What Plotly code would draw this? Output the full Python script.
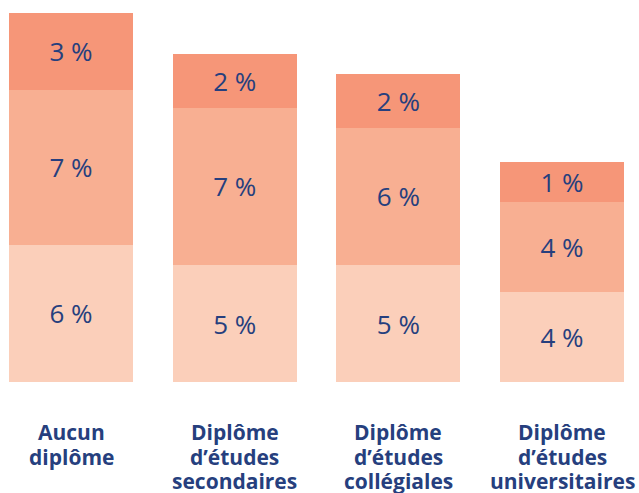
import plotly.graph_objects as go

categories = ["Aucun<br>diplôme", "Diplôme<br>d’études<br>secondaires",
              "Diplôme<br>d’études<br>collégiales", "Diplôme<br>d’études<br>universitaires"]
bottom_vals = [6.1, 5.2, 5.2, 4.0]
mid_vals = [6.9, 7.0, 6.1, 4.0]
top_vals = [3.4, 2.4, 2.4, 1.8]
bottom_labels = ["6 %", "5 %", "5 %", "4 %"]
mid_labels = ["7 %", "7 %", "6 %", "4 %"]
top_labels = ["3 %", "2 %", "2 %", "1 %"]

colors = ["#FBCFBA", "#F8AF92", "#F69678"]
text_color = "#263F7E"

x = list(range(len(categories)))
fig = go.Figure()
for vals, labels, col in [(bottom_vals, bottom_labels, colors[0]),
                          (mid_vals, mid_labels, colors[1]),
                          (top_vals, top_labels, colors[2])]:
    fig.add_trace(go.Bar(
        x=x, y=vals, text=labels, width=0.758,
        marker=dict(color=col, line=dict(width=0)),
        textposition="inside", insidetextanchor="middle", textangle=0,
        constraintext="none",
        textfont=dict(family="Open Sans", size=26, color=text_color),
        hoverinfo="skip", showlegend=False,
    ))

# category labels, one annotation per line for tight line spacing
for i, cat in enumerate(categories):
    for j, line in enumerate(cat.split("<br>")):
        fig.add_annotation(
            x=i, y=0, xref="x", yref="y", text=f"<b>{line}</b>",
            showarrow=False, yanchor="middle", xanchor="center",
            yshift=-(50 + 24.5 * j),
            font=dict(family="Open Sans", size=21, color=text_color),
        )

fig.update_layout(
    barmode="stack",
    width=639, height=493,
    margin=dict(l=0, r=0, t=0, b=111),
    paper_bgcolor="white", plot_bgcolor="white",
    xaxis=dict(range=[-0.4338, 3.470], showticklabels=False, showgrid=False,
               zeroline=False, showline=False, fixedrange=True),
    yaxis=dict(range=[0, 16.98], visible=False, showgrid=False, zeroline=False),
)
fig.write_html("out.html")
